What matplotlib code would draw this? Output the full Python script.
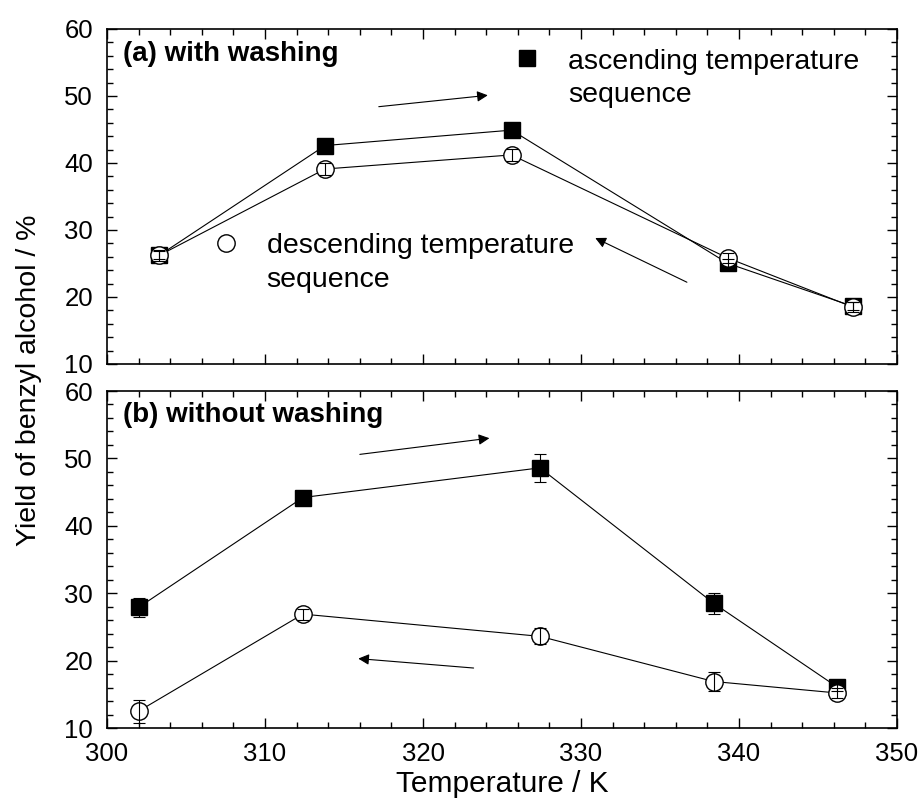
import matplotlib
matplotlib.use("Agg")
import matplotlib.pyplot as plt
from matplotlib.ticker import MultipleLocator

plt.rcParams['font.family'] = ['Liberation Sans', 'DejaVu Sans']

# (a) with washing
temp_a = [303.3, 313.8, 325.6, 339.3, 347.2]
asc_a = [26.2, 42.6, 44.9, 25.0, 18.6]
asc_a_err = [0.6, 0.6, 0.6, 0.6, 0.6]
desc_a = [26.2, 39.1, 41.2, 25.8, 18.5]
desc_a_err = [0.8, 0.9, 0.9, 0.8, 0.8]

# (b) without washing
temp_b = [302.0, 312.4, 327.4, 338.4, 346.2]
asc_b = [27.9, 44.2, 48.6, 28.5, 16.1]
asc_b_err = [1.4, 0.5, 2.1, 1.6, 0.6]
desc_b = [12.5, 26.9, 23.6, 16.9, 15.2]
desc_b_err = [1.7, 0.8, 1.2, 1.4, 0.8]

# arrows: (start, end) in data coords
arrows_a = [((317.2, 48.4), (324.1, 50.1)), ((336.7, 22.2), (330.9, 28.8))]
arrows_b = [((316.0, 50.6), (324.2, 53.0)), ((323.2, 18.9), (315.9, 20.3))]

fig = plt.figure(figsize=(9.21, 7.98), dpi=100)
ax_a = fig.add_axes([0.1162, 0.5439, 0.8578, 0.4198])
ax_b = fig.add_axes([0.1162, 0.0877, 0.8578, 0.4223])


def draw_series(ax, x, y, err, filled):
    if filled:
        ax.plot(x, y, color='k', lw=0.8, marker='s', ms=11,
                mfc='k', mec='k', zorder=2)
    else:
        ax.plot(x, y, color='k', lw=0.8, marker='o', ms=12.5,
                mfc='white', mec='k', mew=1.0, zorder=3)
    ax.errorbar(x, y, yerr=err, fmt='none', ecolor='k', elinewidth=0.8,
                capsize=4, capthick=0.8, zorder=4)


def style_axes(ax):
    ax.set_xlim(300, 350)
    ax.set_ylim(10, 60)
    ax.xaxis.set_major_locator(MultipleLocator(10))
    ax.xaxis.set_minor_locator(MultipleLocator(2))
    ax.yaxis.set_major_locator(MultipleLocator(10))
    ax.yaxis.set_minor_locator(MultipleLocator(2))
    ax.tick_params(which='both', direction='in', top=True, right=True,
                   labelsize=18.5, pad=10, width=1.0)
    ax.tick_params(which='major', length=7)
    ax.tick_params(which='minor', length=4)
    for sp in ax.spines.values():
        sp.set_linewidth(1.2)


def draw_arrows(ax, arrows):
    for start, end in arrows:
        ax.annotate('', xy=end, xytext=start,
                    arrowprops=dict(arrowstyle='-|>', color='k', lw=0.8,
                                    mutation_scale=16, shrinkA=0, shrinkB=0))


draw_series(ax_a, temp_a, asc_a, asc_a_err, True)
draw_series(ax_a, temp_a, desc_a, desc_a_err, False)
draw_series(ax_b, temp_b, asc_b, asc_b_err, True)
draw_series(ax_b, temp_b, desc_b, desc_b_err, False)

style_axes(ax_a)
style_axes(ax_b)
ax_a.tick_params(labelbottom=False)

draw_arrows(ax_a, arrows_a)
draw_arrows(ax_b, arrows_b)

ax_a.text(301.0, 56.3, '(a) with washing', fontsize=20, fontweight='bold',
          ha='left', va='center')
ax_b.text(301.0, 56.5, '(b) without washing', fontsize=20, fontweight='bold',
          ha='left', va='center')

# in-panel legend
ax_a.plot([326.6], [55.6], marker='s', ms=11, color='k', ls='none')
ax_a.text(329.2, 52.6, 'ascending temperature\nsequence', fontsize=20.5,
          ha='left', va='center', linespacing=1.38)
ax_a.plot([307.5], [28.1], marker='o', ms=12.5, mfc='white', mec='k',
          ls='none')
ax_a.text(310.1, 25.1, 'descending temperature\nsequence', fontsize=20.5,
          ha='left', va='center', linespacing=1.38)

ax_b.set_xlabel('Temperature / K', fontsize=21.5, labelpad=3)
fig.text(0.032, 0.524, 'Yield of benzyl alcohol / %', fontsize=20.5,
         rotation=90, ha='center', va='center')

fig.savefig('out.png', dpi=100)
